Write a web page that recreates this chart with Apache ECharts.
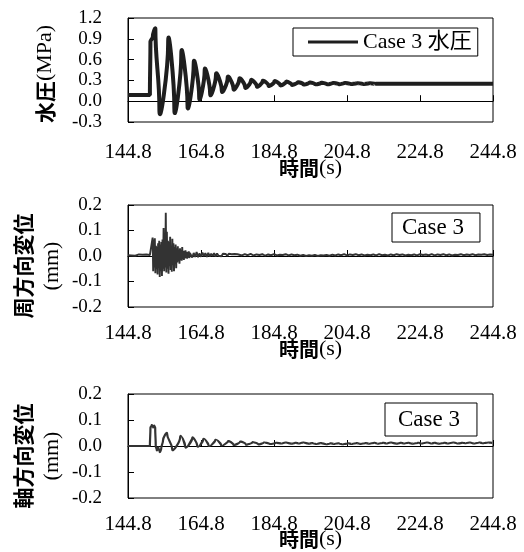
<!DOCTYPE html>
<html>
<head>
<meta charset="utf-8">
<script src="https://cdn.jsdelivr.net/npm/echarts@6/dist/echarts.min.js"></script>
<style>
html, body { margin: 0; padding: 0; background: #fff; }
#chart { width: 524px; height: 552px; }
</style>
</head>
<body>
<div id="chart"></div>
<script>
const X_MIN = 144.8;
const xTickLabels = ['144.8', '164.8', '184.8', '204.8', '224.8', '244.8'];

// top panel: water pressure (MPa), turning points
const waterTime = [144.8, 150.8, 150.95, 151.6, 152.3, 153.4, 155.8, 157.5, 159.4, 161.1,
  162.8, 164.3, 165.8, 167.3, 168.9, 170.5, 172.1, 173.7, 175.3, 176.9,
  178.5, 180.1, 181.7, 183.3, 184.9, 186.5, 188.1, 189.7, 191.3, 192.9,
  194.5, 196.1, 197.7, 199.3, 200.9, 202.5, 204.1, 205.8, 207.5, 209.2,
  210.9, 212.6, 244.8];
const waterValue = [0.09, 0.09, 0.86, 0.93, 1.04, -0.10, 0.83, -0.10, 0.67, -0.05,
  0.54, 0.06, 0.44, 0.11, 0.38, 0.15, 0.34, 0.18, 0.32, 0.20,
  0.30, 0.215, 0.29, 0.225, 0.285, 0.232, 0.279, 0.238, 0.272, 0.242,
  0.268, 0.245, 0.264, 0.246, 0.262, 0.247, 0.261, 0.248, 0.259, 0.249,
  0.257, 0.25, 0.252];

// middle panel: circumferential displacement (mm), sampled in runs
const circPre = [0.003, 0.006, 0.002, 0.005, 0.001, 0.004, 0.006, 0.002, 0.005, 0.003,
  0.006, 0.001, 0.004, 0.003]; // from 144.8, every 0.5 s
const circBurst = [0.005, 0.072, -0.060, 0.065, -0.045, 0.070, -0.068, 0.040, -0.050, 0.035,
  -0.072, 0.050, -0.040, 0.060, -0.082, 0.045, -0.060, 0.055, -0.078, 0.065,
  -0.050, 0.110, -0.060, 0.080, -0.045, 0.170, -0.065, 0.095, -0.050, 0.060,
  -0.070, 0.055, -0.040, 0.075, -0.055, 0.040, -0.062, 0.068, -0.035, 0.050,
  -0.060, 0.035, -0.030, 0.045, -0.048, 0.030, -0.025, 0.038, -0.020, 0.025,
  -0.030, 0.030, -0.015, 0.022, -0.018, 0.035, -0.012, 0.018, -0.015, 0.020,
  -0.010, 0.022, -0.008, 0.016, -0.010, 0.015, -0.006, 0.018, -0.008, 0.012]; // from 151.4, every 0.15 s
const circTail = [0.014, -0.006, 0.012, -0.004, 0.016, -0.005, 0.010, -0.003, 0.013, 0.000,
  0.011, -0.004, 0.012, -0.002, 0.009, 0.000, 0.011, -0.002, 0.010, 0.001,
  0.008, -0.001, 0.009, 0.002, 0.008, 0.000, 0.009, 0.002, 0.007, 0.001,
  0.008, 0.002, 0.007]; // from 162.0, every 0.4 s
const circRest = [0.006, 0.002, 0.007, 0.003, 0.008, 0.002, 0.006, 0.004, 0.007, 0.001,
  0.006, 0.003, 0.007, 0.002, 0.005, 0.004, 0.007, 0.002, 0.006, 0.003,
  0.005, 0.001, 0.004, 0.000, 0.003, 0.001, 0.004, 0.000, 0.003, 0.002,
  0.004, 0.001, 0.005, 0.002, 0.006, 0.003, 0.007, 0.002, 0.006, 0.004,
  0.007, 0.003, 0.006, 0.002, 0.005, 0.003, 0.006, 0.002, 0.007, 0.003,
  0.005, 0.002, 0.006, 0.003, 0.007, 0.004, 0.006, 0.002, 0.005, 0.003,
  0.006, 0.002, 0.007, 0.004, 0.006, 0.003, 0.007, 0.002, 0.006, 0.004,
  0.007, 0.003, 0.006, 0.002, 0.005, 0.004, 0.007, 0.003, 0.006, 0.004,
  0.007, 0.003, 0.006, 0.005, 0.007, 0.004, 0.006, 0.005]; // from 175.2, every 0.8 s

// bottom panel: axial displacement (mm)
const axialTime = [144.8, 150.8, 150.95, 151.3, 151.7, 152.0, 152.25, 152.4, 152.7, 153.1,
  153.5, 153.9, 154.4, 155.5, 156.9, 159.1, 160.5, 162.4, 163.8, 165.4,
  166.9, 168.7, 170.3, 172.2, 173.7, 175.5, 177.1, 178.9, 180.5, 182.0,
  183.6, 185.3];
const axialValue = [0.0, 0.0, 0.070, 0.080, 0.072, 0.078, 0.070, 0.000, -0.016, -0.006,
  -0.022, -0.010, 0.022, 0.048, -0.012, 0.035, -0.003, 0.030, 0.000, 0.025,
  0.002, 0.022, 0.004, 0.018, 0.005, 0.016, 0.006, 0.014, 0.007, 0.013,
  0.008, 0.012];
const axialRest = [0.010, 0.013, 0.009, 0.012, 0.010, 0.013, 0.009, 0.011, 0.008, 0.011,
  0.007, 0.010, 0.008, 0.010, 0.007, 0.010, 0.008, 0.011, 0.008, 0.011,
  0.009, 0.012, 0.009, 0.012, 0.010, 0.013, 0.009, 0.012, 0.010, 0.012,
  0.009, 0.012, 0.010, 0.013, 0.010, 0.012, 0.009, 0.012, 0.010, 0.013,
  0.010, 0.012, 0.011, 0.013, 0.010, 0.013, 0.011, 0.013, 0.012]; // from 187.0, every 1.2 s

const SERIF = 'Liberation Serif';
const CJK = 'Noto Sans CJK JP';

function pairs(times, values) {
  return values.map((v, i) => [times[i] - X_MIN, v]);
}

function run(start, step, values) {
  return values.map((v, i) => [start + i * step - X_MIN, v]);
}

const grids = [
  { left: 128, top: 18, width: 365, height: 104 },
  { left: 128, top: 205, width: 365, height: 102 },
  { left: 128, top: 394, width: 365, height: 104 },
];

function xAxisFor(idx, nameGap, labelMargin) {
  return {
    type: 'value',
    gridIndex: idx,
    min: 0,
    max: 100,
    interval: 20,
    name: '時間{l|(s)}',
    nameLocation: 'middle',
    nameGap: nameGap,
    nameMoveOverlap: false,
    nameTextStyle: {
      fontFamily: CJK, fontWeight: 'bold', fontSize: 20, color: '#000', lineHeight: 22,
      rich: { l: { fontFamily: SERIF, fontWeight: 'normal', fontSize: 22, color: '#000', lineHeight: 22 } },
    },
    axisLine: { show: true, lineStyle: { color: '#000', width: 1 } },
    axisTick: { show: true, inside: true, length: 6, lineStyle: { color: '#000' } },
    axisLabel: {
      margin: labelMargin, fontFamily: SERIF, fontSize: 21, color: '#000',
      formatter: (v, i) => xTickLabels[i],
    },
    splitLine: { show: false },
  };
}

function yAxisFor(idx, min, max, interval, name, nameGap, padding, lineHeight) {
  return {
    type: 'value',
    gridIndex: idx,
    min: min,
    max: max,
    interval: interval,
    name: name,
    nameLocation: 'middle',
    nameGap: nameGap,
    nameMoveOverlap: false,
    nameTextStyle: {
      fontFamily: CJK, fontWeight: 'bold', fontSize: 21, color: '#000', lineHeight: lineHeight,
      padding: padding,
      rich: { l: { fontFamily: SERIF, fontWeight: 'normal', fontSize: 22, color: '#000', lineHeight: lineHeight } },
    },
    axisLine: { show: true, lineStyle: { color: '#000', width: 1 } },
    axisTick: { show: true, inside: true, length: 6, lineStyle: { color: '#000' } },
    axisLabel: {
      margin: 26, fontFamily: SERIF, fontSize: 19, color: '#000',
      formatter: (v) => v.toFixed(1),
    },
    splitLine: { show: false },
  };
}

const chart = echarts.init(document.getElementById('chart'));
chart.setOption({
  animation: false,
  backgroundColor: '#fff',
  textStyle: { fontFamily: SERIF },
  grid: grids.map((g) => ({ ...g, show: true, borderColor: '#000', borderWidth: 1, backgroundColor: 'transparent' })),
  xAxis: [xAxisFor(0, 35, 20), xAxisFor(1, 31, 16), xAxisFor(2, 30, 16)],
  yAxis: [
    yAxisFor(0, -0.3, 1.2, 0.3, '水圧{l|(MPa)}', 71, [0, 8, 0, 0], 24),
    yAxisFor(1, -0.2, 0.2, 0.1, '周方向変位\n{l|(mm)}', 61, [0, 20, 0, 0], 29),
    yAxisFor(2, -0.2, 0.2, 0.1, '軸方向変位\n{l|(mm)}', 61, [0, 20, 0, 0], 29),
  ],
  legend: [
    {
      left: 293, top: 28, padding: [3, 6, 3, 15], itemWidth: 50, itemHeight: 3,
      borderColor: '#000', borderWidth: 1, selectedMode: false,
      data: [{ name: 'Case 3 水圧', icon: 'rect' }],
      textStyle: { fontFamily: SERIF + ', ' + CJK, fontSize: 22, color: '#000', lineHeight: 21 },
    },
    {
      left: 392, top: 213, padding: [3, 16, 3, 5], itemWidth: 0, itemHeight: 14,
      borderColor: '#000', borderWidth: 1, selectedMode: false,
      data: [{ name: 'Case 3', icon: 'none' }],
      textStyle: { fontFamily: SERIF, fontSize: 23, color: '#000' },
    },
    {
      left: 385, top: 403, padding: [5, 17, 5, 8], itemWidth: 0, itemHeight: 14,
      borderColor: '#000', borderWidth: 1, selectedMode: false,
      data: [{ name: 'Case 3', icon: 'none' }],
      textStyle: { fontFamily: SERIF, fontSize: 23, color: '#000' },
    },
  ],
  series: [
    {
      name: 'Case 3 水圧', type: 'line', xAxisIndex: 0, yAxisIndex: 0,
      data: pairs(waterTime, waterValue),
      symbol: 'none', smooth: 0.4, smoothMonotone: 'y',
      lineStyle: { color: '#1e1e1e', width: 4 }, itemStyle: { color: '#1e1e1e' },
    },
    {
      name: 'Case 3', type: 'line', xAxisIndex: 1, yAxisIndex: 1,
      data: [].concat(run(144.8, 0.5, circPre), run(151.4, 0.15, circBurst),
        run(162.0, 0.4, circTail), run(175.2, 0.8, circRest)),
      symbol: 'none',
      lineStyle: { color: '#333', width: 1.9 }, itemStyle: { color: '#333' },
    },
    {
      name: 'Case 3', type: 'line', xAxisIndex: 2, yAxisIndex: 2,
      data: [].concat(pairs(axialTime, axialValue), run(187.0, 1.2, axialRest)),
      symbol: 'none', smooth: 0.4, smoothMonotone: 'y',
      lineStyle: { color: '#333', width: 2.2 }, itemStyle: { color: '#333' },
    },
  ],
});
</script>
</body>
</html>
